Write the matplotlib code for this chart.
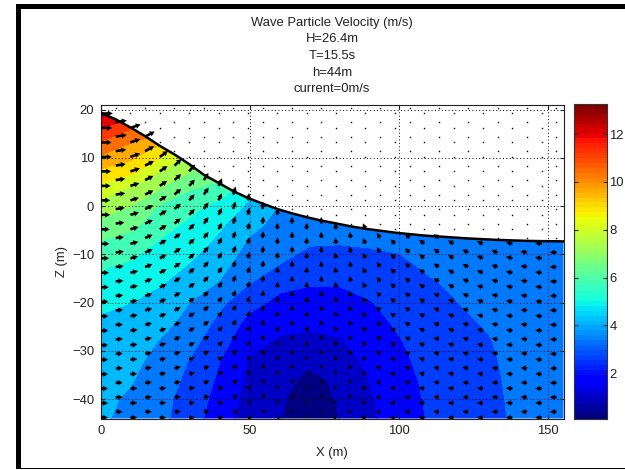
import numpy as np
import matplotlib
matplotlib.use('Agg')
import matplotlib.pyplot as plt
from matplotlib.patches import Polygon, Rectangle

plt.rcParams['font.family'] = ['Liberation Sans', 'DejaVu Sans']
plt.rcParams['font.size'] = 9.4

title_lines = ['Wave Particle Velocity (m/s)', 'H=26.4m', 'T=15.5s', 'h=44m', 'current=0m/s']

# free surface
surface_x = [0, 4.9, 9.9, 14.8, 19.7, 24.7, 29.6, 34.5, 39.5, 44.4, 49.3, 54.3, 59.2, 64.1, 69.1, 74,
             79, 83.9, 88.8, 93.8, 98.7, 103.6, 108.6, 113.5, 118.4, 123.3, 128.3, 133.2, 138.1, 143.1, 148, 155.2]
surface_z = [19.3, 18, 16.3, 14.5, 12.5, 10.7, 8.7, 6.5, 4.8, 3.1, 1.7, 0.5, -0.6, -1.5, -2.3, -3,
             -3.6, -4.2, -4.7, -5.1, -5.5, -5.8, -6.1, -6.3, -6.5, -6.7, -6.85, -7, -7.1, -7.2, -7.25, -7.3]

# speed, one list per x node, z from top to bottom
speed_x = [0, 10, 20, 30, 40, 50, 60, 70, 80, 90, 100, 110, 120, 130, 140, 150, 160]
speed_z = [20, 16, 12, 8, 4, 0, -4, -8, -12, -16, -20, -24, -28, -32, -36, -40, -44]
speed_by_x = [
    [13.4, 12.0, 10.9, 9.75, 8.7, 7.75, 7.0, 6.35, 5.85, 5.4, 5.05, 4.8, 4.6, 4.45, 4.35, 4.25, 4.2],
    [13.0, 11.3, 10.2, 9.4, 8.1, 7.3, 6.7, 6.1, 5.6, 5.25, 4.9, 4.7, 4.5, 4.3, 4.15, 4.0, 3.9],
    [12.0, 10.8, 9.5, 8.3, 7.35, 6.4, 6.0, 5.55, 5.2, 4.95, 4.6, 4.35, 4.05, 3.85, 3.7, 3.55, 3.5],
    [10.5, 9.4, 8.3, 7.5, 6.6, 5.95, 5.5, 5.2, 4.87, 4.5, 4.08, 3.85, 3.55, 3.25, 3.1, 2.95, 2.85],
    [8.8, 8.0, 7.5, 7.0, 6.3, 5.4, 5.0, 4.68, 4.36, 4.03, 3.45, 3.1, 2.8, 2.5, 2.35, 2.2, 2.05],
    [6.8, 6.4, 6.0, 5.6, 5.1, 4.75, 4.3, 3.95, 3.65, 3.3, 2.75, 2.25, 1.95, 1.62, 1.5, 1.4, 1.3],
    [5.6, 5.3, 5.0, 4.7, 4.4, 4.05, 3.85, 3.6, 3.3, 2.7, 2.3, 1.95, 1.6, 1.4, 1.15, 1.0, 0.93],
    [5.0, 4.8, 4.6, 4.4, 4.2, 3.95, 3.65, 3.33, 2.95, 2.55, 2.2, 1.85, 1.5, 1.05, 0.7, 0.55, 0.45],
    [4.9, 4.7, 4.5, 4.3, 4.1, 3.9, 3.6, 3.3, 2.9, 2.55, 2.25, 1.95, 1.62, 1.3, 1.05, 0.98, 0.9],
    [4.8, 4.6, 4.4, 4.2, 4.0, 3.85, 3.6, 3.35, 3.05, 2.75, 2.45, 2.25, 2.05, 1.9, 1.7, 1.6, 1.55],
    [4.7, 4.5, 4.3, 4.1, 3.95, 3.8, 3.6, 3.38, 3.2, 3.0, 2.8, 2.62, 2.45, 2.33, 2.23, 2.15, 2.1],
    [4.7, 4.5, 4.3, 4.15, 4.0, 3.85, 3.7, 3.55, 3.4, 3.23, 3.1, 2.95, 2.85, 2.75, 2.65, 2.6, 2.55],
    [4.7, 4.55, 4.35, 4.2, 4.05, 3.9, 3.8, 3.68, 3.55, 3.42, 3.3, 3.2, 3.1, 3.0, 2.95, 2.88, 2.85],
    [4.75, 4.6, 4.4, 4.25, 4.1, 3.98, 3.88, 3.78, 3.68, 3.58, 3.47, 3.36, 3.26, 3.2, 3.15, 3.12, 3.1],
    [4.8, 4.65, 4.5, 4.3, 4.15, 4.02, 3.93, 3.85, 3.78, 3.7, 3.65, 3.6, 3.55, 3.5, 3.48, 3.45, 3.42],
    [4.85, 4.7, 4.55, 4.35, 4.2, 4.05, 3.98, 3.92, 3.86, 3.8, 3.77, 3.73, 3.7, 3.68, 3.66, 3.64, 3.62],
    [4.9, 4.75, 4.6, 4.4, 4.25, 4.08, 4.0, 3.95, 3.9, 3.85, 3.82, 3.8, 3.77, 3.75, 3.73, 3.72, 3.7],
]
contour_levels = [0.1, 0.9, 1.7, 2.5, 3.3, 4.1, 4.9, 5.7, 6.5, 7.3, 8.1, 8.9, 9.7, 10.5, 11.3, 12.1, 12.9, 13.7]

# arrow directions on screen (degrees), one list per column, bottom to top
arrow_angles = [
    [0, 0, 0, 0, 0, 0, 0, 0, 0, 0, 0, 0, 0, 0, 0, 0, 0, 0, 0, 0, 0, 0],
    [0, 1, 2, 2, 3, 4, 4, 5, 5, 6, 6, 7, 7, 7, 8, 8, 8, 9, 9, 9, 9],
    [0, 2, 3, 4, 6, 7, 8, 10, 11, 12, 13, 14, 15, 16, 16, 17, 17, 18, 19, 19, 19],
    [1, 3, 6, 8, 10, 12, 14, 16, 17, 19, 20, 22, 23, 24, 25, 26, 27, 27, 28, 28],
    [0, 3, 6, 10, 12, 15, 18, 20, 22, 24, 27, 28, 30, 31, 32, 33, 34, 35, 36],
    [2, 6, 10, 14, 18, 21, 24, 27, 29, 32, 34, 35, 37, 39, 40, 41, 42, 43],
    [0, 6, 11, 16, 20, 24, 28, 32, 35, 37, 40, 42, 43, 45, 46, 48, 48, 49],
    [3, 10, 17, 23, 28, 33, 37, 41, 44, 47, 49, 51, 52, 54, 55, 56, 57],
    [0, 11, 20, 28, 35, 41, 46, 50, 53, 55, 58, 60, 61, 62, 64, 65, 65],
    [8, 22, 34, 43, 50, 56, 60, 62, 65, 67, 69, 70, 71, 72, 73, 73],
    [0, 26, 43, 54, 61, 66, 69, 72, 74, 75, 76, 77, 78, 79, 79, 80],
    [24, 53, 66, 72, 76, 79, 80, 81, 82, 83, 83, 84, 84, 84, 85],
    [0, 69, 79, 82, 84, 85, 86, 86, 87, 87, 87, 87, 88, 88, 88],
    [72, 84, 86, 87, 88, 88, 88, 89, 89, 89, 89, 89, 89, 89],
    [90, 90, 90, 90, 90, 90, 90, 90, 90, 90, 90, 90, 90, 90],
    [130, 105, 99, 96, 95, 94, 94, 93, 93, 93, 92, 92, 92, 92],
    [180, 142, 124, 114, 109, 106, 103, 101, 100, 99, 99, 98, 97, 97],
    [166, 144, 130, 120, 114, 111, 108, 106, 105, 103, 102, 101, 101],
    [180, 167, 156, 147, 139, 134, 129, 125, 122, 120, 117, 116, 114, 113],
    [175, 167, 159, 152, 146, 140, 136, 133, 130, 127, 125, 123, 122],
    [180, 173, 167, 162, 156, 152, 147, 143, 140, 138, 135, 133, 132],
    [177, 172, 167, 162, 158, 153, 150, 147, 144, 141, 139, 137, 136],
    [180, 175, 171, 167, 162, 159, 155, 152, 149, 147, 144, 142, 141],
    [178, 174, 170, 167, 163, 160, 157, 155, 152, 150, 148, 146, 144],
    [180, 177, 173, 170, 167, 164, 161, 159, 156, 154, 153, 151, 149],
    [179, 176, 173, 170, 168, 165, 163, 161, 159, 157, 155, 154],
    [180, 178, 175, 173, 171, 169, 167, 165, 163, 162, 160, 159, 158],
    [179, 177, 176, 174, 172, 171, 169, 168, 167, 165, 164, 163],
    [180, 178, 177, 176, 174, 173, 172, 171, 170, 169, 168, 167, 166],
    [180, 178, 177, 176, 175, 174, 173, 173, 172, 171, 170, 170],
    [180, 179, 179, 178, 177, 177, 176, 175, 175, 174, 174, 173, 173],
    [180, 180, 180, 180, 180, 180, 179, 179, 179, 179, 179, 179],
]

x_ticks = [0, 50, 100, 150]
z_ticks = [-40, -30, -20, -10, 0, 10, 20]
colorbar_ticks = [2, 4, 6, 8, 10, 12]
c_min, c_max = 0.08, 13.26

W, H = 625, 470
fig = plt.figure(figsize=(W / 100, H / 100), dpi=100)


def px_axes(left, top, right, bottom):
    return fig.add_axes([left / W, 1 - bottom / H, (right - left) / W, (bottom - top) / H])


# black frame of the screenshot
for r in [(16, 4, W - 16, 5), (16, 4, 5, 465), (16, 467.5, W - 16, 1.5)]:
    fig.add_artist(Rectangle((r[0] / W, 1 - (r[1] + r[3]) / H), r[2] / W, r[3] / H,
                             transform=fig.transFigure, color='black', lw=0))

ax = px_axes(101, 104.5, 563.5, 418.5)
jet = matplotlib.colormaps['jet']
band_colors = [jet((v - c_min) / (c_max - c_min)) for v in contour_levels[:-1]]
speed = np.array(speed_by_x).T
cs = ax.contourf(speed_x, speed_z, speed, levels=contour_levels, colors=band_colors, antialiased=False)
water = Polygon(list(zip(surface_x, surface_z)) + [(155.2, -44), (0, -44)], transform=ax.transData,
                fc='none', ec='none')
ax.add_patch(water)
cs.set_clip_path(water)

ax.set_xlim(0, 155.2)
ax.set_ylim(-44, 21.06)
ax.set_xticks(x_ticks)
ax.set_yticks(z_ticks)
ax.grid(True, color='black', linestyle=(0, (1, 2.5)), linewidth=0.7)
ax.set_axisbelow(False)
ax.tick_params(direction='in', length=3, top=True, right=True, colors='#222222', pad=5)
ax.set_xlabel('X (m)', color='#222222', labelpad=7)
ax.set_ylabel('Z (m)', color='#222222', labelpad=3)
for s in ax.spines.values():
    s.set_linewidth(0.8)
    s.set_color('#222222')

# arrows on a staggered lattice, dots where the lattice is above the water
ax_x, ax_z, ax_u, ax_v, dot_x, dot_z = [], [], [], [], [], []
for i, col in enumerate(arrow_angles):
    x = i * 4.93
    base = -43.8 if i % 2 == 0 else -42.6
    for k, angle in enumerate(col):
        z = base + 3 * k
        s = speed[np.argmin(np.abs(np.array(speed_z) - z)), np.argmin(np.abs(np.array(speed_x) - x))]
        length = 3.0 * np.sqrt(s) + 0.8
        ax_x.append(x)
        ax_z.append(z)
        ax_u.append(length * np.cos(np.radians(angle)))
        ax_v.append(length * np.sin(np.radians(angle)))
    k = len(col)
    while base + 3 * k < 20.8:
        dot_x.append(x)
        dot_z.append(base + 3 * k)
        k += 1

ax.plot(dot_x, dot_z, linestyle='none', marker='s', ms=1.0, mew=0, color='black', zorder=4)
ax.quiver(ax_x, ax_z, ax_u, ax_v, angles='uv', scale_units='dots', scale=1, units='dots', width=2.6,
          headwidth=2.2, headlength=2.0, headaxislength=1.8, minlength=0.3, pivot='tail', color='black',
          zorder=5, clip_on=True)
ax.plot(surface_x, surface_z, color='black', linewidth=1.8, zorder=6)

fig.text(332 / W, 1 - 95 / H, '\n'.join(title_lines), ha='center', va='bottom', ma='center',
         color='#222222', linespacing=1.5)

cax = px_axes(574, 104, 606.7, 419)
cax.imshow(np.linspace(c_max, c_min, 64).reshape(-1, 1), aspect='auto', cmap='jet', vmin=c_min, vmax=c_max,
           extent=[0, 1, c_min, c_max], interpolation='nearest')
cax.set_xticks([])
cax.yaxis.tick_right()
cax.set_yticks(colorbar_ticks)
cax.tick_params(direction='in', length=3, left=True, right=True, colors='#222222', pad=2)
for s in cax.spines.values():
    s.set_linewidth(0.8)
    s.set_color('#333333')

fig.savefig('out.png', dpi=100)
